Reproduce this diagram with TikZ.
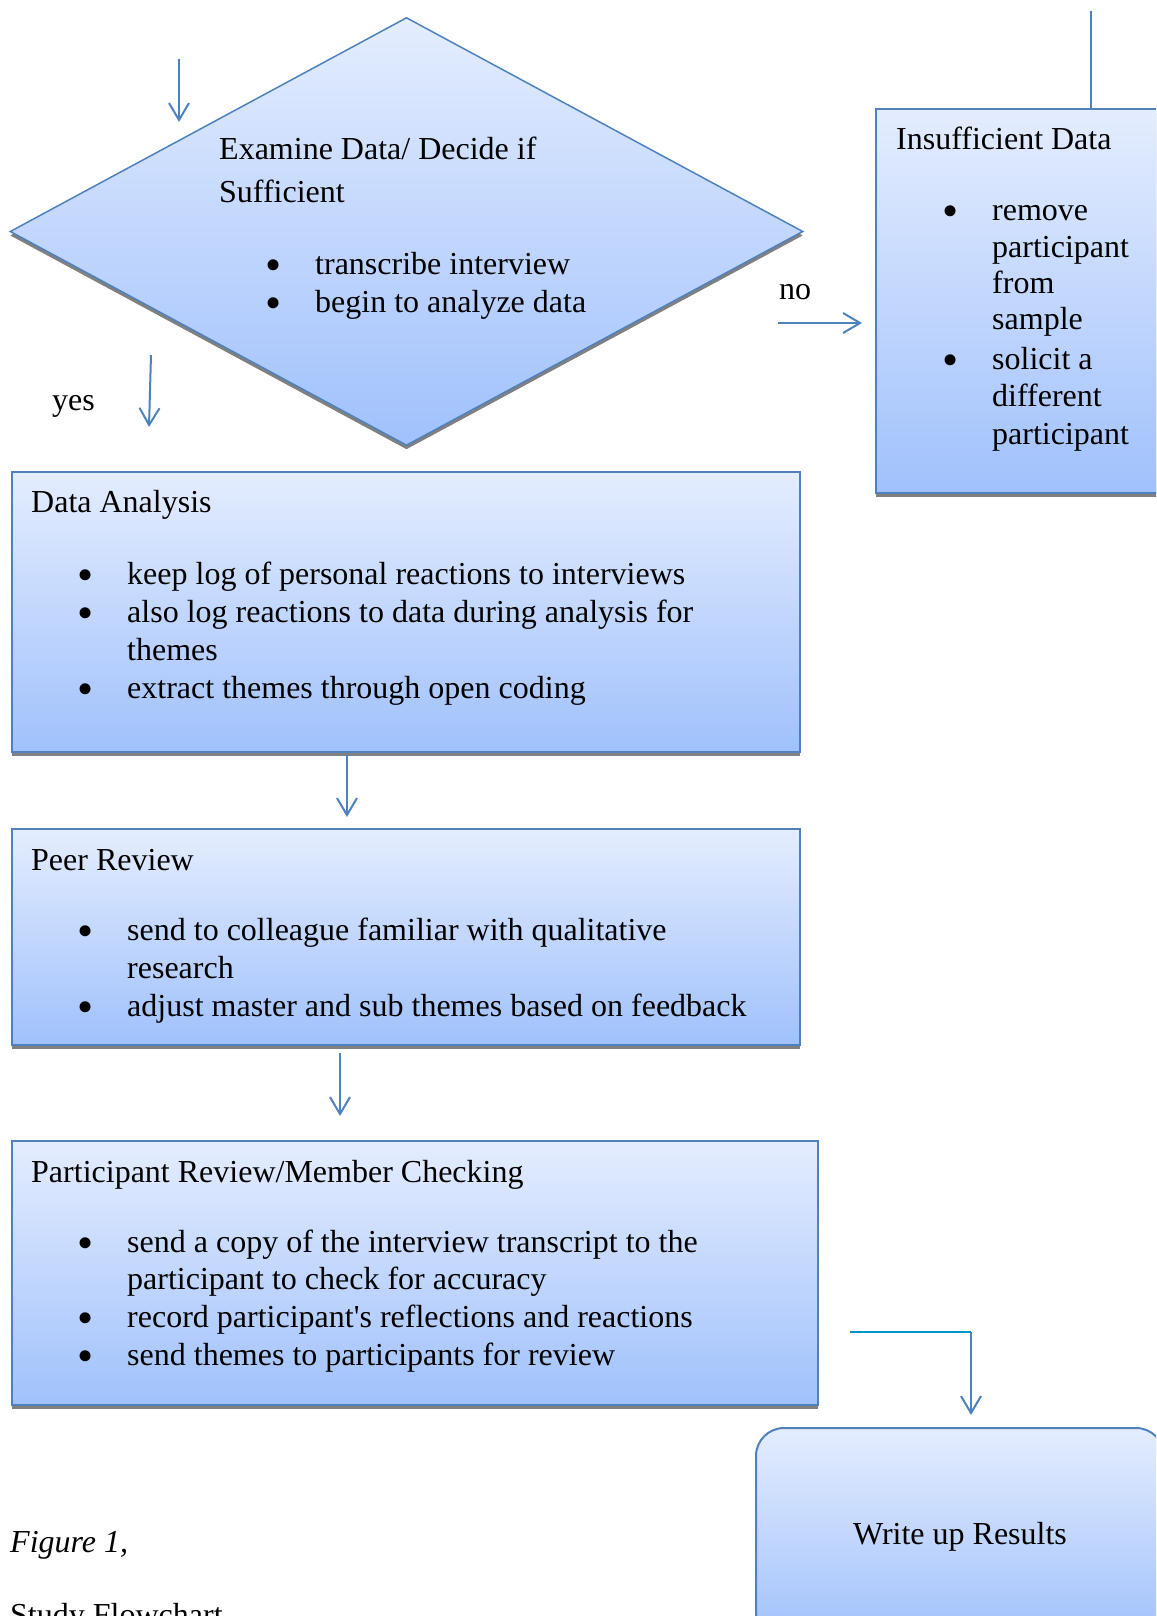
\documentclass[tikz,border=0pt]{standalone}
\usepackage{fontspec}
\setmainfont{Liberation Serif}[Ligatures=TeXOff]
\usetikzlibrary{arrows.meta,shapes.geometric,shadows}
\definecolor{bord}{RGB}{79,129,189}
\definecolor{topc}{RGB}{228,237,254}
\definecolor{botc}{RGB}{160,193,252}
\definecolor{tealline}{RGB}{0,150,200}
\definecolor{shad}{RGB}{128,128,128}
\newcommand{\bigbul}{\raisebox{-6pt}[12pt][0pt]{\fontsize{46}{46}\selectfont\textbullet}}
\tikzset{
  box/.style={draw=bord, line width=2pt, top color=topc, bottom color=botc,
    inner sep=0pt, anchor=north west,
    drop shadow={shadow xshift=0pt, shadow yshift=-4pt, fill=shad, opacity=1}},
  txt/.style={anchor=base west, inner sep=0pt, yshift=-2.5pt, font=\fontsize{32}{37}\selectfont},
  bul/.style={anchor=base, inner sep=0pt, yshift=-2.5pt, font=\fontsize{32}{37}\selectfont},
  arr/.style={draw=bord, line width=2pt, -{Straight Barb[length=17pt,width=20pt,line width=2pt]}},
  plain/.style={draw=bord, line width=2pt},
}
\begin{document}
\begin{tikzpicture}[x=1pt,y=-1pt]
\useasboundingbox (0,0) rectangle (1156,1616);
\clip (0,0) rectangle (1156,1616);
% decision diamond
\node[diamond, draw=bord, line width=1.5pt, top color=topc, bottom color=botc,
  minimum width=793pt, minimum height=428pt, inner sep=0pt,
  drop shadow={shadow xshift=0pt, shadow yshift=-4pt, fill=shad, opacity=1}]
  (dec) at (406.5,231.5) {};
\node[txt] (dect1) at (219,157) {Examine Data/ Decide if};
\node[txt] (dect2) at (219,200) {Sufficient};
\node[bul] (decb1) at (273.5,272) {\bigbul};
\node[txt] (decl1) at (315,272) {transcribe interview};
\node[bul] (decb2) at (273.5,310) {\bigbul};
\node[txt] (decl2) at (315,310) {begin to analyze data};
% insufficient data
\node[box, minimum width=300pt, minimum height=384pt] (ins) at (875,108) {};
\node[txt] (inst) at (896,147) {Insufficient Data};
\node[bul] (insb1) at (951,218) {\bigbul};
\node[txt] (insl1) at (992,218) {remove};
\node[txt] (insl2) at (992,255) {participant};
\node[txt] (insl3) at (992,291) {from};
\node[txt] (insl4) at (992,327) {sample};
\node[bul] (insb2) at (951,367) {\bigbul};
\node[txt] (insl5) at (992,367) {solicit a};
\node[txt] (insl6) at (992,404) {different};
\node[txt] (insl7) at (992,442) {participant};
% data analysis
\node[box, minimum width=788pt, minimum height=280pt] (da) at (11,471) {};
\node[txt] (dat) at (31,510) {Data Analysis};
\node[bul] (dab1) at (86,582) {\bigbul};
\node[txt] (dal1) at (127,582) {keep log of personal reactions to interviews};
\node[bul] (dab2) at (86,620) {\bigbul};
\node[txt] (dal2) at (127,620) {also log reactions to data during analysis for};
\node[txt] (dal3) at (127,658) {themes};
\node[bul] (dab3) at (86,696) {\bigbul};
\node[txt] (dal4) at (127,696) {extract themes through open coding};
% peer review
\node[box, minimum width=788pt, minimum height=216pt] (pr) at (11,828) {};
\node[txt] (prt) at (31,868) {Peer Review};
\node[bul] (prb1) at (86,938) {\bigbul};
\node[txt] (prl1) at (127,938) {send to colleague familiar with qualitative};
\node[txt] (prl2) at (127,976) {research};
\node[bul] (prb2) at (86,1014) {\bigbul};
\node[txt] (prl3) at (127,1014) {adjust master and sub themes based on feedback};
% participant review
\node[box, minimum width=806pt, minimum height=264pt] (par) at (11,1140) {};
\node[txt] (part) at (31,1180) {Participant Review/Member Checking};
\node[bul] (parb1) at (86,1250) {\bigbul};
\node[txt] (parl1) at (127,1250) {send a copy of the interview transcript to the};
\node[txt] (parl2) at (127,1287) {participant to check for accuracy};
\node[bul] (parb2) at (86,1325) {\bigbul};
\node[txt] (parl3) at (127,1325) {record participant's reflections and reactions};
\node[bul] (parb3) at (86,1363) {\bigbul};
\node[txt] (parl4) at (127,1363) {send themes to participants for review};
% write up
\node[draw=bord, line width=2pt, top color=topc, bottom color=botc, rounded corners=28pt,
  minimum width=408pt, minimum height=212pt, inner sep=0pt,
  font=\fontsize{32}{37}\selectfont] (wr) at (960,1534) {\raisebox{-10pt}[0pt][0pt]{Write up Results}};
% labels
\node[txt] (no) at (779,297) {no};
\node[txt] (yes) at (52,408) {yes};
\node[txt, font=\fontsize{32}{37}\selectfont\itshape] (fig) at (10,1550) {Figure 1,};
\node[txt] (cap) at (10,1623) {Study Flowchart};
% connector end points
\coordinate (a1s) at (179,59);   \coordinate (a1e) at (179,122);
\coordinate (a2s) at (151,355);  \coordinate (a2e) at (149,427);
\coordinate (a3s) at (778,323);  \coordinate (a3e) at (862,323);
\coordinate (a4s) at (347,755);  \coordinate (a4e) at (347,817);
\coordinate (a5s) at (340,1053); \coordinate (a5e) at (340,1116);
\coordinate (e1) at (850,1332);  \coordinate (e2) at (971,1332);
\coordinate (e3) at (971,1415);
\coordinate (t1) at (1091,11);
% connectors
\draw[arr] (a1s) -- (a1e);
\draw[arr] (a2s) -- (a2e);
\draw[arr] (a3s) -- (a3e);
\draw[arr] (a4s) -- (a4e);
\draw[arr] (a5s) -- (a5e);
\draw[tealline, line width=2pt] (e1) -- (e2);
\draw[arr] (e2) -- (e3);
\draw[plain] (t1) -- (t1 |- ins.north);
\end{tikzpicture}
\end{document}
